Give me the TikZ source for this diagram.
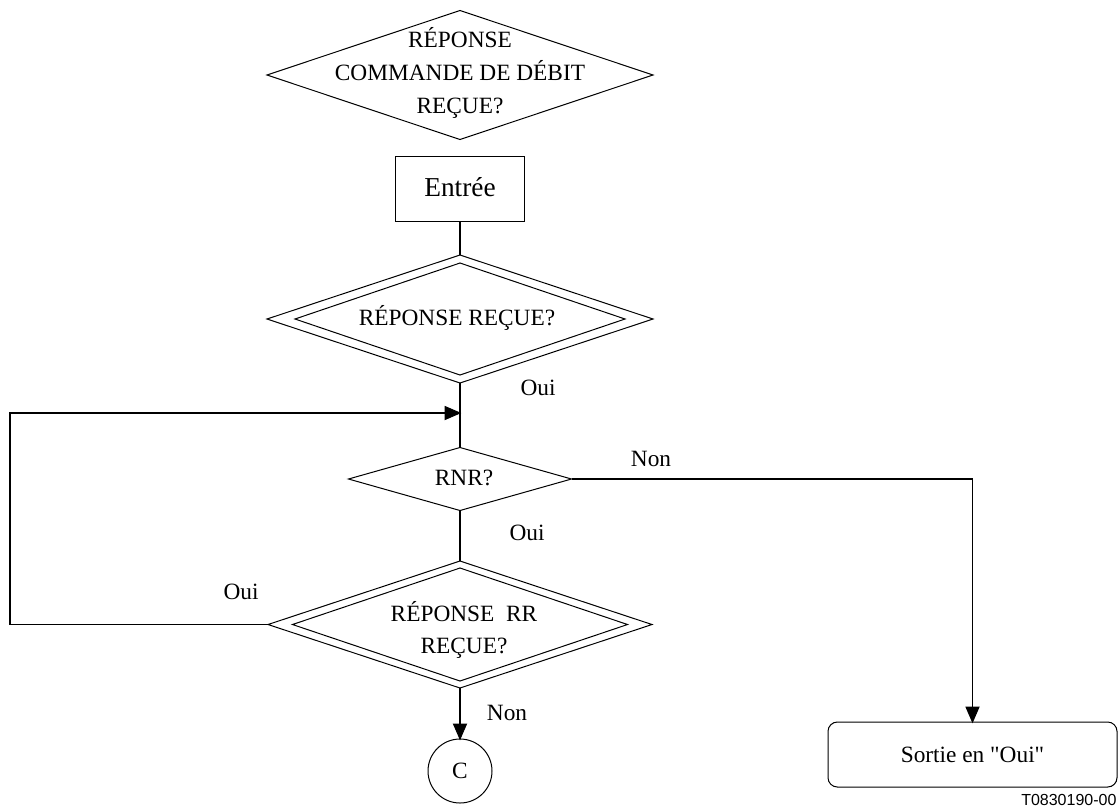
\documentclass[tikz,border=0pt]{standalone}
\usepackage{fontspec}
\setmainfont{Liberation Serif}
\newfontfamily\refsans{Liberation Sans}
\usetikzlibrary{shapes.geometric}

\begin{document}
\begin{tikzpicture}[x=0.75pt,y=0.75pt,yscale=-1,xscale=1,
	decision/.style={draw, shape=diamond, inner sep=0pt, outer sep=0pt, line width=0.75pt},
	procbox/.style={draw, rectangle, inner sep=0pt, outer sep=0pt, line width=0.75pt},
	flowtext/.style={inner sep=0.75pt, font=\fontsize{17.5}{24.5}\selectfont, align=center},
	flowline/.style={line width=1pt},
	tiphead/.style={fill=black, line width=0.75pt, line join=miter}]
\useasboundingbox (0,0) rectangle (1119,808);

%Shape: Diamond
\node [decision, minimum width=289.5pt, minimum height=96.75pt] (qdebit) at (460,75) {};
%Shape: Rectangle
\node [procbox, flowtext, inner sep=0pt, outer sep=0pt, font=\fontsize{20.5}{24.5}\selectfont, text depth=3pt, minimum width=96.75pt, minimum height=48.75pt] (entree) at (460,188.5) {Entrée};
%Shape: Double Diamond
\node [decision, minimum width=289.5pt, minimum height=96pt] (qresp) at (460,319) {};
\node [decision, minimum width=247.5pt, minimum height=84pt] (qrespin) at (460,319) {};
%Shape: Diamond
\node [decision, minimum width=167.25pt, minimum height=47.25pt] (rnr) at (460,479) {};
%Shape: Double Diamond
\node [decision, minimum width=288pt, minimum height=95.25pt] (qrr) at (460,624.5) {};
\node [decision, minimum width=251.25pt, minimum height=84.75pt] (qrrin) at (460,624.5) {};
%Shape: Circle
\node [draw, circle, flowtext, inner sep=0pt, outer sep=0pt, line width=0.75pt, minimum size=48pt] (cC) at (460,771) {C};
%Shape: Rounded Rectangle
\node [procbox, flowtext, inner sep=0pt, outer sep=0pt, rounded corners=7pt, minimum width=216.75pt, minimum height=48.75pt] (sortie) at (972.5,754.5) {Sortie en \textquotedbl Oui\textquotedbl};

\coordinate (join) at (460,413);
\coordinate (loopL) at (10,413);

%Straight Lines
\draw [flowline] (entree.south) -- (qresp.north);
\draw [flowline] (qresp.south) -- (rnr.north);
\draw [flowline] (rnr.south) -- (qrr.north);
\draw [flowline] (qrr.west) -| (loopL) -- (join);
\draw [shift={(join)}, rotate = 180] [tiphead] (0,0) -- (15,-6.5) -- (15,6.5) -- cycle ;
\draw [flowline] (rnr.east) -| (sortie.north);
\draw [shift={(sortie.north)}, rotate = -90] [tiphead] (0,0) -- (15,-6.5) -- (15,6.5) -- cycle ;
\draw [flowline] (qrr.south) -- (cC.north);
\draw [shift={(cC.north)}, rotate = -90] [tiphead] (0,0) -- (15,-6.5) -- (15,6.5) -- cycle ;

% Text Node
\node [flowtext] (tdebit) at (460,73) {RÉPONSE\\COMMANDE DE DÉBIT\\REÇUE?};
% Text Node
\node [flowtext] (tresp) at (457,318) {RÉPONSE REÇUE?};
% Text Node
\node [flowtext] (trnr) at (464,478) {RNR?};
% Text Node
\node [flowtext] (trr) at (464,630) {RÉPONSE\ \ RR\\REÇUE?};
% Text Node
\node [flowtext] (ouiA) at (538,388) {Oui};
% Text Node
\node [flowtext] (nonA) at (651,459) {Non};
% Text Node
\node [flowtext] (ouiB) at (527,533) {Oui};
% Text Node
\node [flowtext] (ouiC) at (241,592) {Oui};
% Text Node
\node [flowtext] (nonB) at (507,713) {Non};
% Text Node
\node [anchor=north west, inner sep=0pt, font=\refsans\fontsize{12}{14}\selectfont] (figref) at (1021,794) {T0830190-00};

\end{tikzpicture}
\end{document}
